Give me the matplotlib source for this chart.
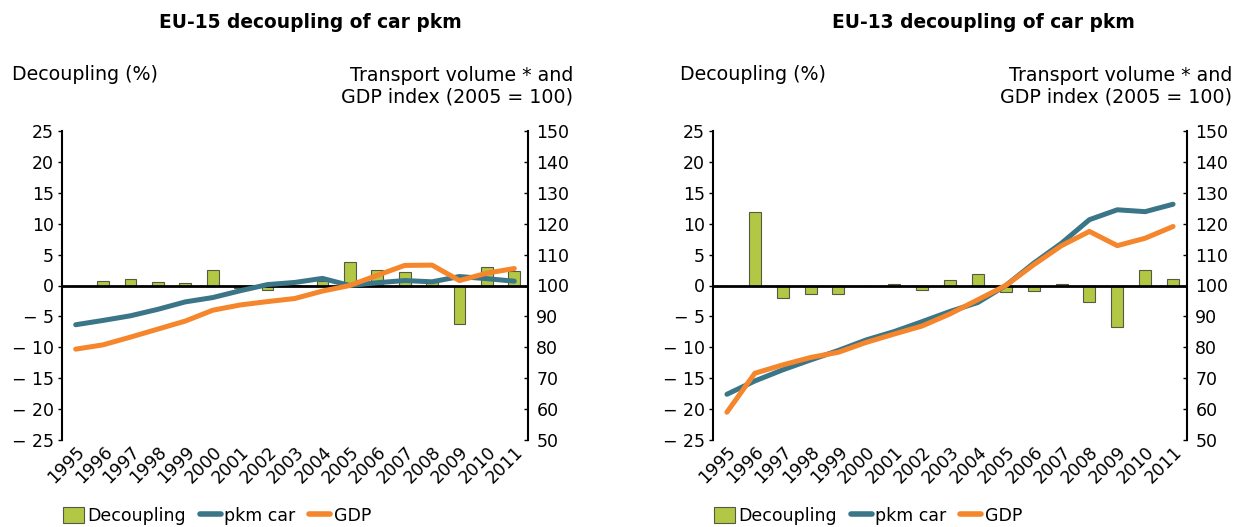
import matplotlib
matplotlib.use("Agg")
import matplotlib.pyplot as plt
from matplotlib.patches import Patch
from matplotlib.lines import Line2D

years = [str(y) for y in range(1995, 2012)]

eu15_decoupling = [0.0, 0.65, 1.13, 0.54, 0.38, 2.43, -0.43, -0.75, 0.1, 0.8,
                   3.88, 2.48, 2.16, 0.6, -6.26, 2.97, 2.27]
eu15_pkm_car = [87.3, 88.7, 90.2, 92.3, 94.7, 96.1, 98.3, 100.3, 101.0, 102.3,
                100.0, 100.9, 101.6, 101.2, 102.9, 102.2, 101.4]
eu15_gdp = [79.4, 80.8, 83.3, 85.9, 88.5, 92.0, 93.7, 94.8, 95.8, 98.2,
            100.0, 103.3, 106.5, 106.6, 101.6, 104.0, 105.5]

eu13_decoupling = [0.0, 11.87, -2.05, -1.40, -1.40, 0.0, 0.2, -0.7, 0.86, 1.83,
                   -1.13, -0.92, 0.2, -2.64, -6.74, 2.48, 1.02]
eu13_pkm_car = [64.8, 69.1, 72.7, 75.9, 79.0, 82.4, 85.1, 88.3, 91.6, 94.5,
                100.0, 107.2, 113.7, 121.3, 124.5, 123.9, 126.3]
eu13_gdp = [59.0, 71.6, 74.3, 76.7, 78.4, 81.6, 84.3, 86.9, 90.8, 95.4,
            100.0, 106.7, 112.9, 117.5, 112.9, 115.3, 119.1]

left_ticks = [-25, -20, -15, -10, -5, 0, 5, 10, 15, 20, 25]
left_labels = ["\u2212 25", "\u2212 20", "\u2212 15", "\u2212 10", "\u2212 5",
               "0", "5", "10", "15", "20", "25"]
right_ticks = [50, 60, 70, 80, 90, 100, 110, 120, 130, 140, 150]

titles = ["EU-15 decoupling of car pkm", "EU-13 decoupling of car pkm"]
left_axis_title = "Decoupling (%)"
right_axis_title = "Transport volume * and\nGDP index (2005 = 100)"
legend_labels = ["Decoupling", "pkm car", "GDP"]

BAR_COLOR = "#b2c744"
BAR_EDGE = "#555a44"
BLUE = "#3a7688"
ORANGE = "#f5862b"
FS = 12.5
FS_AX = 13.7

plt.rcParams["font.family"] = ["DejaVu Sans"]

fig = plt.figure(figsize=(12.37, 5.27), dpi=100)

panels = [
    (eu15_decoupling, eu15_pkm_car, eu15_gdp, [62, 528], 310, 12),
    (eu13_decoupling, eu13_pkm_car, eu13_gdp, [713, 1187], 983, 680),
]

W, H = 1237, 527
top_px, bot_px = 131, 440

for i, (dec, pkm, gdp, (x0, x1), title_cx, ylab_x) in enumerate(panels):
    ax = fig.add_axes([x0 / W, 1 - bot_px / H, (x1 - x0) / W, (bot_px - top_px) / H])
    x = list(range(len(years)))
    ax.bar(x, dec, width=0.43, color=BAR_COLOR, edgecolor=BAR_EDGE, linewidth=0.8, zorder=2)
    ax.axhline(0, color="black", linewidth=2.0, zorder=3)
    ax.set_ylim(-25, 25)
    ax.set_xlim(-0.5, len(years) - 0.5)
    ax.set_yticks(left_ticks)
    ax.set_yticklabels(left_labels, fontsize=FS)
    ax.set_xticks(x)
    ax.set_xticklabels(years, rotation=45, ha="right", va="top", rotation_mode="anchor",
                       fontsize=FS)
    ax.tick_params(axis="x", length=0, pad=2)
    ax.tick_params(axis="y", direction="out", length=3, width=1, pad=3)
    for s in ["top", "bottom", "right"]:
        ax.spines[s].set_visible(False)
    ax.spines["left"].set_linewidth(1.5)

    ax2 = ax.twinx()
    ax2.plot(x, pkm, color=BLUE, linewidth=3.6, solid_capstyle="round", zorder=4)
    ax2.plot(x, gdp, color=ORANGE, linewidth=3.6, solid_capstyle="round", zorder=5)
    ax2.set_ylim(50, 150)
    ax2.set_yticks(right_ticks)
    ax2.set_yticklabels([str(t) for t in right_ticks], fontsize=FS)
    ax2.tick_params(axis="y", direction="in", length=3, width=1, pad=6)
    for s in ["top", "bottom", "left"]:
        ax2.spines[s].set_visible(False)
    ax2.spines["right"].set_linewidth(1.5)

    fig.text(title_cx / W, 1 - 22 / H, titles[i], ha="center", va="center",
             fontsize=13.4, fontweight="bold")
    fig.text(ylab_x / W, 1 - 75 / H, left_axis_title, ha="left", va="center",
             fontsize=FS_AX)
    fig.text((x1 + 45) / W, 1 - 86.5 / H, right_axis_title, ha="right", va="center",
             fontsize=FS_AX, linespacing=1.18, multialignment="right")

    handles = [Patch(facecolor=BAR_COLOR, edgecolor=BAR_EDGE, linewidth=0.8),
               Line2D([0], [0], color=BLUE, linewidth=4, solid_capstyle="round"),
               Line2D([0], [0], color=ORANGE, linewidth=4, solid_capstyle="round")]
    fig.legend(handles, legend_labels, loc="center left",
               bbox_to_anchor=((x0 + 1) / W, 1 - 516 / H), ncol=3, frameon=False,
               fontsize=FS, handlelength=1.2, handletextpad=0.2, columnspacing=0.8,
               borderaxespad=0, borderpad=0, handleheight=1.0)

fig.savefig("out.png", dpi=100)
